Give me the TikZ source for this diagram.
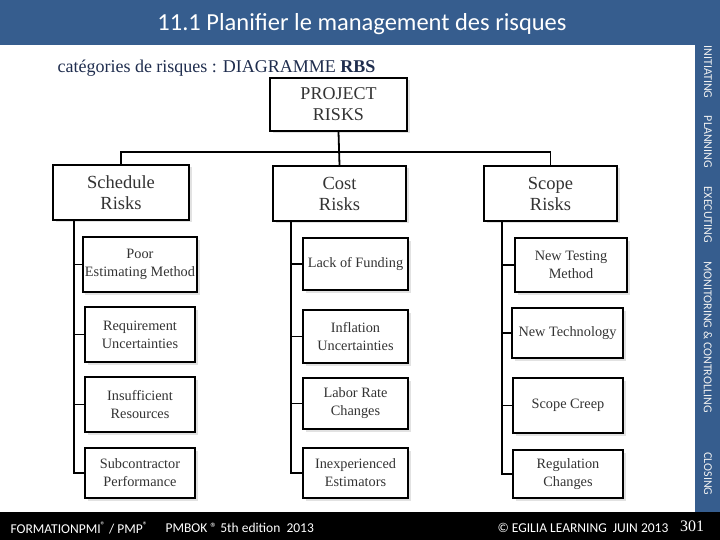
\documentclass[tikz,border=0pt]{standalone}
\usepackage{fontspec}
\setmainfont{Liberation Serif}
\newfontfamily\calib{Carlito}
\usetikzlibrary{shadows,positioning}

\definecolor{slideblue}{HTML}{365D8E}
\definecolor{subnavy}{HTML}{1F2D4E}
\definecolor{boxtext}{HTML}{333333}

\begin{document}
\begin{tikzpicture}[
    x=1pt, y=-1pt,
    risk-box/.style  = {draw=black, line width=1.8pt, fill=white, align=center,
                        text=boxtext, inner sep=2pt,
                        drop shadow={shadow xshift=2.5pt, shadow yshift=-2.5pt, fill=gray!45}},
    top-box/.style   = {risk-box, font=\fontsize{18}{21}\selectfont},
    cat-box/.style   = {risk-box, font=\fontsize{18.5}{21}\selectfont},
    leaf-box/.style  = {risk-box, line width=2.2pt, font=\fontsize{14.3}{18}\selectfont},
    link/.style      = {black, line width=1.8pt},
    side-label/.style= {rotate=-90, text=gray!10, font=\calib\fontsize{12}{14}\selectfont},
    foot-label/.style= {text=white, anchor=west, font=\calib\fontsize{13.5}{15}\selectfont}
  ]
\useasboundingbox (0,0) rectangle (720,540);

% =========================================================
% Slide frame: banner, side bar, footer
% =========================================================
\fill[slideblue] (0,0) rectangle (720,45);
\fill[slideblue] (695,45) rectangle (720,512);
\fill[black] (0,512) rectangle (720,540);

\node[text=white, font=\calib\fontsize{24.5}{28}\selectfont] (title) at (362,24)
  {11.1 Planifier le management des risques};
\node[anchor=west, text=subnavy, font=\fontsize{18}{21}\selectfont] (subtitle) at (54,68)
  {catégories de risques : DIAGRAMME \textbf{RBS}};

% Process groups along the side bar
\node[side-label] (initiating) at (708,72)  {INITIATING};
\node[side-label] (planning)   at (708,142) {PLANNING};
\node[side-label] (executing)  at (708,215) {EXECUTING};
\node[side-label] (monitoring) at (708,337) {MONITORING \& CONTROLLING};
\node[side-label] (closing)    at (708,474) {CLOSING};

% Footer
\node[foot-label] (pmi)   at (7,528)   {FORMATIONPMI\textsuperscript{®} / PMP\textsuperscript{®}};
\node[foot-label] (pmbok) at (162,528) {PMBOK ® 5th edition\ \ 2013};
\node[foot-label] (egil)  at (494,528) {© EGILIA LEARNING\ \ JUIN 2013};
\node[text=white, font=\fontsize{16}{18}\selectfont] (page) at (692,526) {301};

% =========================================================
% RBS tree
% =========================================================
\node[top-box, minimum width=137pt, minimum height=53pt] (proj) at (338.5,104.5)
  {PROJECT\\RISKS};

\node[cat-box, minimum width=136pt, minimum height=55pt] (sched) at (121,192.5)
  {Schedule\\Risks};
\node[cat-box, minimum width=133pt, minimum height=55pt] (cost)  at (339.5,193.5)
  {Cost\\Risks};
\node[cat-box, minimum width=133pt, minimum height=55pt] (scope) at (550.5,193.5)
  {Scope\\Risks};

% Schedule risks
\node[leaf-box, minimum width=110pt, minimum height=55pt] (poor)  at (140,264.5) {Poor\\Estimating Method};
\node[leaf-box, minimum width=110pt, minimum height=55pt] (req)   at (140,334.5) {Requirement\\Uncertainties};
\node[leaf-box, minimum width=110pt, minimum height=55pt] (insuf) at (140,404.5) {Insufficient\\Resources};
\node[leaf-box, minimum width=110pt, minimum height=50pt] (sub)   at (140,473)   {Subcontractor\\Performance};

% Cost risks
\node[leaf-box, minimum width=105pt, minimum height=52pt] (fund)  at (355.5,264)   {Lack of Funding};
\node[leaf-box, minimum width=105pt, minimum height=53pt] (infl)  at (355.5,336.5) {Inflation\\Uncertainties};
\node[leaf-box, minimum width=105pt, minimum height=51pt] (labor) at (355.5,403.5) {Labor Rate\\Changes};
\node[leaf-box, minimum width=105pt, minimum height=50pt] (inexp) at (355.5,473)   {Inexperienced\\Estimators};

% Scope risks
\node[leaf-box, minimum width=112pt, minimum height=54pt] (test)  at (571,265)   {New Testing\\Method};
\node[leaf-box, minimum width=111pt, minimum height=50pt] (tech)  at (567.5,333) {New Technology};
\node[leaf-box, minimum width=110pt, minimum height=55pt] (creep) at (568,405.5) {Scope Creep};
\node[leaf-box, minimum width=110pt, minimum height=48pt] (regul) at (568,474)   {Regulation\\Changes};

% Branches from the project box
\coordinate (bus) at (338.5,152);
\draw[link] (proj.south) -- (cost.north);
\draw[link] (sched.north) |- (bus) -| (scope.north);

% Spines down each category
\coordinate (sched-spine) at ([xshift=22pt]sched.south west);
\coordinate (cost-spine)  at ([xshift=19pt]cost.south west);
\coordinate (scope-spine) at ([xshift=19pt]scope.south west);

\foreach \leaf in {poor, req, insuf, sub}
  {\draw[link] (sched-spine) |- (\leaf.west);}
\foreach \leaf in {fund, infl, labor, inexp}
  {\draw[link] (cost-spine) |- (\leaf.west);}
\foreach \leaf in {test, tech, creep, regul}
  {\draw[link] (scope-spine) |- (\leaf.west);}

\end{tikzpicture}
\end{document}
